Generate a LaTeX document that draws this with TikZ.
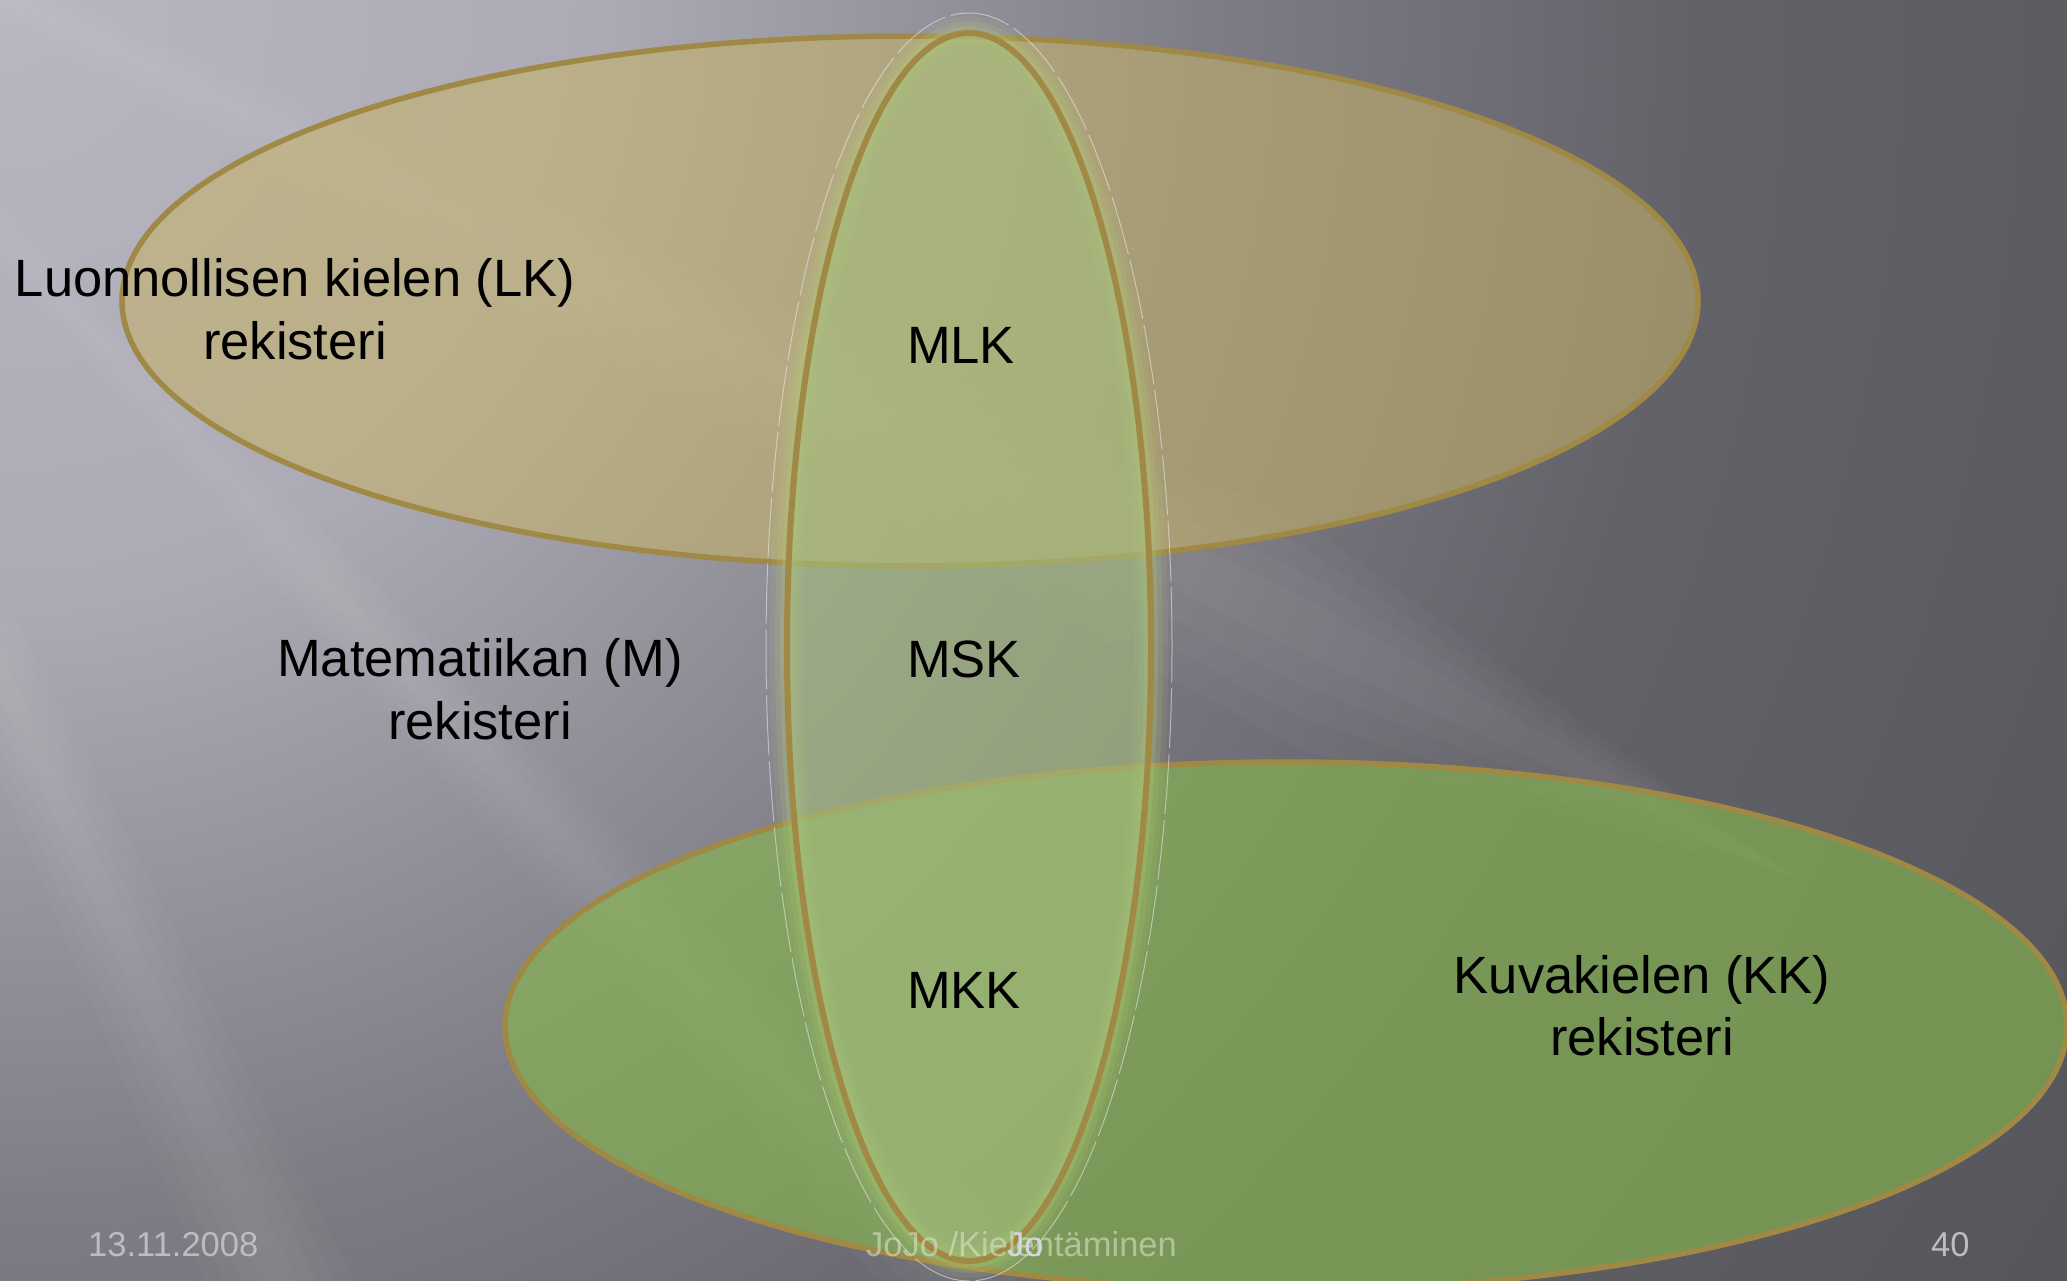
\documentclass[tikz,border=0pt]{standalone}
\usepackage{fontspec}
\setmainfont{Liberation Sans}
\definecolor{bgA}{RGB}{184,182,192}
\definecolor{bgB}{RGB}{172,170,180}
\definecolor{bgC}{RGB}{127,125,133}
\definecolor{bgD}{RGB}{100,98,105}
\definecolor{bgE}{RGB}{88,86,93}
\definecolor{lkfill}{RGB}{198,180,105}
\definecolor{kkfill}{RGB}{135,187,75}
\definecolor{mfill}{RGB}{165,190,125}
\definecolor{ringcol}{RGB}{160,137,68}
\definecolor{glowcol}{RGB}{185,210,120}
\definecolor{footcol}{RGB}{188,188,194}
\definecolor{footmid}{RGB}{225,232,210}
\definecolor{footbright}{RGB}{215,212,228}
\pgfdeclareradialshading{bgshade}{\pgfpoint{0bp}{0bp}}{color(0bp)=(bgA); color(5.77bp)=(bgB); color(11.5bp)=(bgC); color(16.3bp)=(bgD); color(23.08bp)=(bgE); color(50bp)=(bgE)}
\begin{document}
\begin{tikzpicture}[x=1pt,y=-1pt,
  lbl/.style={font=\fontsize{52.5}{62.5}\selectfont, text=black, inner sep=0pt, align=center},
  foot/.style={font=\fontsize{34.5}{40}\selectfont, inner sep=0pt, anchor=base west},
  ring/.style={draw=ringcol, line width=5.5pt},
  beam/.style={fill=white, opacity=0.025}]
\useasboundingbox (0,0) rectangle (2067,1280);
% background
\begin{scope}
  \clip (0,0) rectangle (2067,1280);
  \fill[bgE] (0,0) rectangle (2067,1280);
  \shade[shading=bgshade] (0,0) circle [radius=2600pt];
  \foreach \h in {25,50,75,100}{
    \fill[beam] (-400,-200) -- (1300,620-\h) -- (1800,880) -- (1300,620+1.3*\h) -- cycle;
    \fill[beam] (-400,-200) -- (1081-\h,1400) -- (1081+\h,1400) -- cycle;
    \fill[beam] (-400,-200) -- (334-0.8*\h,1400) -- (334+0.8*\h,1400) -- cycle;
  }
\end{scope}
% centres
\coordinate (lkc) at (910,301);
\coordinate (mc) at (969,647);
\coordinate (kkc) at (1286,1026);
% ellipses
\draw[ring, fill=lkfill, fill opacity=0.56] (lkc) ellipse [x radius=788pt, y radius=265pt];
\draw[ring, fill=kkfill, fill opacity=0.6] (kkc) ellipse [x radius=781pt, y radius=264pt];
\draw[glowcol, line width=34pt, opacity=0.10] (mc) ellipse [x radius=182pt, y radius=614pt];
\draw[glowcol, line width=24pt, opacity=0.14] (mc) ellipse [x radius=182pt, y radius=614pt];
\draw[glowcol, line width=14pt, opacity=0.2] (mc) ellipse [x radius=182pt, y radius=614pt];
\draw[ring, line width=6pt, fill=mfill, fill opacity=0.6] (mc) ellipse [x radius=182pt, y radius=614pt];
\draw[white!85!gray, opacity=0.55, line width=1pt, dash pattern=on 60pt off 6pt] (mc) ellipse [x radius=203pt, y radius=634pt];
% labels
\node[lbl] (lk) at (295,309) {Luonnollisen kielen (LK)\\rekisteri};
\node[lbl] (mlabel) at (480,689) {Matematiikan (M)\\rekisteri};
\node[lbl] (kk) at (1642,1005.5) {Kuvakielen (KK)\\rekisteri};
\node[lbl, anchor=base] (mlk) at (961,363) {MLK};
\node[lbl, anchor=base] (msk) at (964,677) {MSK};
\node[lbl, anchor=base] (mkk) at (964,1008) {MKK};
% footer
\node[foot, text=footcol] (date) at (88,1256) {13.11.2008};
\node[foot, text=footcol] (page) at (1931,1256) {40};
\node[foot, text=footmid, opacity=0.55] (ftitle) at (866,1256) {JoJo /Kielentäminen};
\node[foot, text=footbright] (fjo) at (1007,1256) {Jo};
\end{tikzpicture}
\end{document}
